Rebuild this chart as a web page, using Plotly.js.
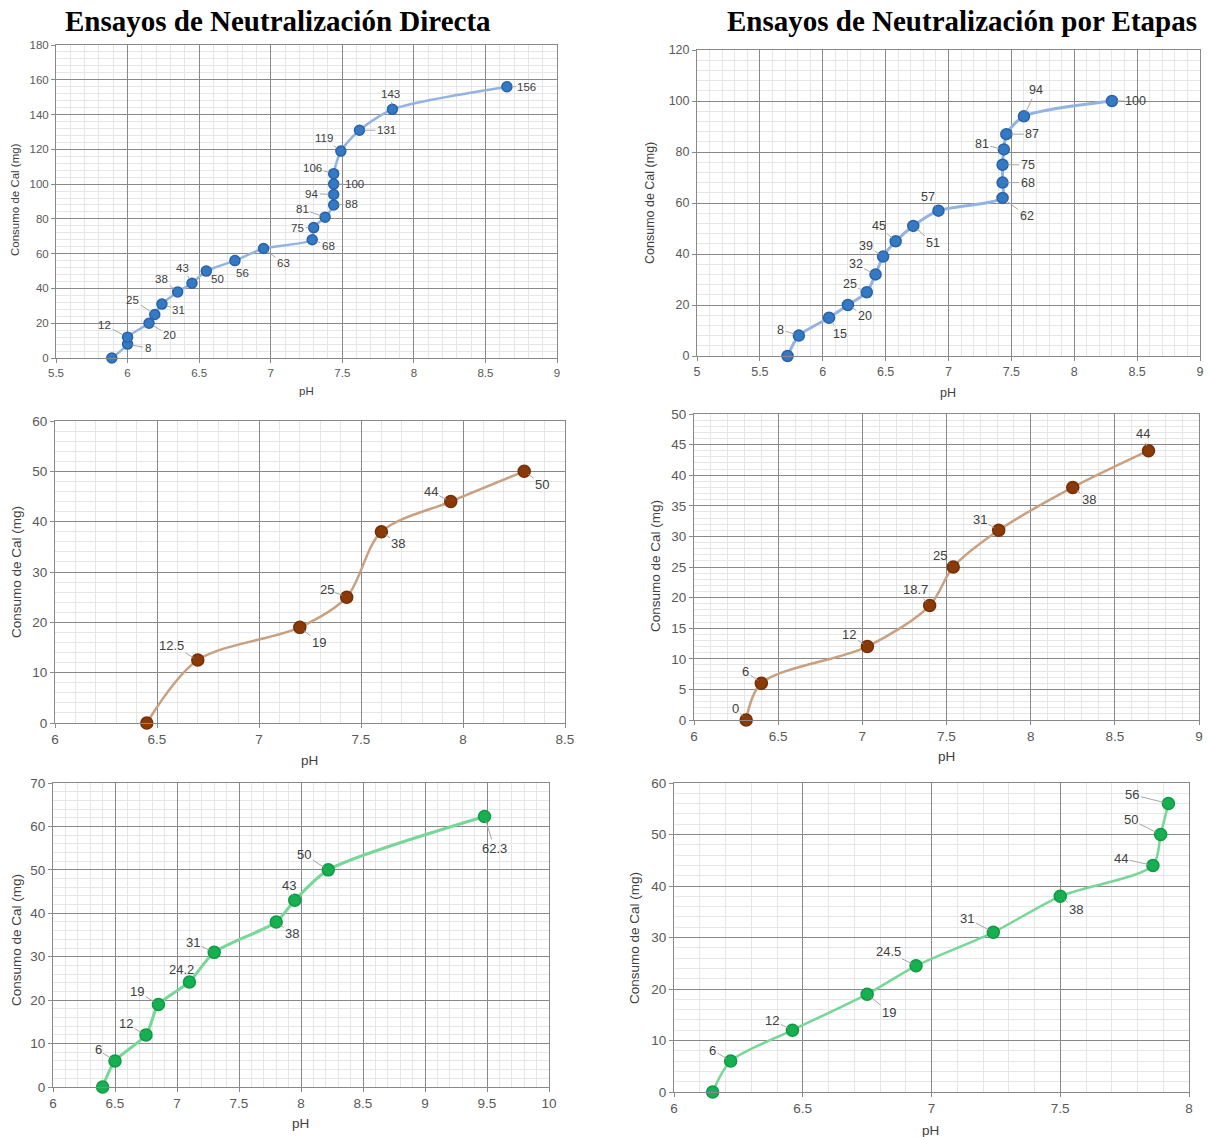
<!DOCTYPE html>
<html>
<head>
<meta charset="utf-8">
<script src="https://cdn.plot.ly/plotly-3.0.1.min.js"></script>
<style>html,body{margin:0;padding:0;background:#fff;}</style>
</head>
<body>
<div id="chart" style="width:1210px;height:1137px;"></div>
<script>
// ---------------- DATA ----------------
// Ensayos de Neutralización Directa (left column)
const directa1_pH  = [5.89, 6.00, 6.00, 6.15, 6.19, 6.24, 6.35, 6.45, 6.55, 6.75, 6.95, 7.29, 7.30, 7.38, 7.44, 7.44, 7.44, 7.44, 7.49, 7.62, 7.85, 8.65];
const directa1_cal = [0, 8, 12, 20, 25, 31, 38, 43, 50, 56, 63, 68, 75, 81, 88, 94, 100, 106, 119, 131, 143, 156];

const directa2_pH  = [6.45, 6.70, 7.20, 7.43, 7.60, 7.94, 8.30];
const directa2_cal = [0, 12.5, 19, 25, 38, 44, 50];

const directa3_pH  = [6.40, 6.50, 6.75, 6.85, 7.10, 7.30, 7.80, 7.95, 8.22, 9.48];
const directa3_cal = [0, 6, 12, 19, 24.2, 31, 38, 43, 50, 62.3];

// Ensayos de Neutralización por Etapas (right column)
const etapas1_pH  = [5.72, 5.81, 6.05, 6.20, 6.35, 6.42, 6.48, 6.58, 6.72, 6.92, 7.43, 7.43, 7.43, 7.44, 7.46, 7.60, 8.30];
const etapas1_cal = [0, 8, 15, 20, 25, 32, 39, 45, 51, 57, 62, 68, 75, 81, 87, 94, 100];

const etapas2_pH  = [6.31, 6.40, 7.03, 7.40, 7.54, 7.81, 8.25, 8.70];
const etapas2_cal = [0, 6, 12, 18.7, 25, 31, 38, 44];

const etapas3_pH  = [6.15, 6.22, 6.46, 6.75, 6.94, 7.24, 7.50, 7.86, 7.89, 7.92];
const etapas3_cal = [0, 6, 12, 19, 24.5, 31, 38, 44, 50, 56];

// Text
const titleLeft  = "Ensayos de Neutralización Directa";
const titleRight = "Ensayos de Neutralización por Etapas";
const yTitle = "Consumo de Cal (mg)";
const xTitle = "pH";

// ---------------- STYLE / LAYOUT (positions in px) ----------------
const W = 1210, H = 1137;
const labelOffsets1 = [null,[20,4],[-23,-12],[20,12],[-22,-15],[17,6],[-16,-13],[-9,-15],[11,8],[8,12],[20,15],[16,6],[-16,0],[-23,-8],[18,-1],[-22,-1],[21,0],[-21,-6],[-17,-13],[27,0],[-2,-15],[20,0]];
const labelOffsets2 = [null,[-18,-6],[11,16],[17,11],[-17,-8],[-20,-10],[-17,-11],[-17,-15],[20,17],[-10,-14],[24,18],[25,0],[25,0],[-22,-5],[26,0],[12,-26],[24,0]];
const labelOffsets3 = [null,[-26,-15],[19,15],[-20,-8],[17,12],[-20,-10],[18,13]];
const labelOffsets4 = [[-11,-12],[-16,-12],[-18,-12],[-14,-16],[-13,-12],[-19,-11],[16,12],[-6,-17]];
const labelOffsets5 = [null,[-17,-11],[-20,-11],[-21,-13],[-8,-12],[-21,-10],[16,12],[-6,-15],[-24,-15],[10,32]];
const labelOffsets6 = [null,[-18,-11],[-20,-10],[22,18],[-28,-14],[-26,-14],[16,13],[-32,-7],[-30,-15],[-36,-9]];

const BLUE  = {line:'#93b3e3', marker:'#3479c4', edge:'#2a62a8'};
const BROWN = {line:'#c9a080', marker:'#8a3a08', edge:'#762f05'};
const GREEN = {line:'#76d796', marker:'#16b050', edge:'#0f9a45'};

const panels = [
  {x:directa1_pH, y:directa1_cal, off:labelOffsets1, col:BLUE,  box:[56,557,45,358],   xr:[5.5,9], yr:[0,180], xd:0.5, xm:0.1, yd:20, ym:4, fs:11.5, lfs:11.5, ms:10, lw:2.5, sm:0.7, ytp:[15,200], xtp:[306,391], tfs:11.5},
  {x:etapas1_pH,  y:etapas1_cal,  off:labelOffsets2, col:BLUE,  box:[697,1200,50,356], xr:[5,9],   yr:[0,120], xd:0.5, xm:0.1, yd:20, ym:4, fs:12.5, lfs:12.5, ms:11, lw:3, sm:0.7, ytp:[650,203], xtp:[948,393], tfs:12.5},
  {x:directa2_pH, y:directa2_cal, off:labelOffsets3, col:BROWN, box:[55,565,421,723],  xr:[6,8.5], yr:[0,60],  xd:0.5, xm:0.1, yd:10, ym:2, fs:13.5, lfs:13, ms:12, lw:2.5, sm:0.9, ytp:[16,572], xtp:[309,760], tfs:13.5},
  {x:etapas2_pH,  y:etapas2_cal,  off:labelOffsets4, col:BROWN, box:[694,1199,414,720],xr:[6,9],   yr:[0,50],  xd:0.5, xm:0.1, yd:5,  ym:1, fs:13.5, lfs:13, ms:12, lw:2.5, sm:0.9, ytp:[655,566], xtp:[946,756], tfs:13.5},
  {x:directa3_pH, y:directa3_cal, off:labelOffsets5, col:GREEN, box:[53,549,783,1087], xr:[6,10],  yr:[0,70],  xd:0.5, xm:0.1, yd:10, ym:2, fs:13.5, lfs:13, ms:12, lw:3, sm:0.7, ytp:[16,940], xtp:[300,1123], tfs:13.5},
  {x:etapas3_pH,  y:etapas3_cal,  off:labelOffsets6, col:GREEN, box:[674,1189,783,1092],xr:[6,8],  yr:[0,60],  xd:0.5, xm:0.1, yd:10, ym:2, fs:13.5, lfs:13, ms:12, lw:2.5, sm:0.8, ytp:[634,938], xtp:[930,1130], tfs:13.5}
];

const FONT = 'Liberation Sans, Arial, sans-serif';
const SERIF = 'Liberation Serif, Times New Roman, serif';
const px = v => v / W;
const py = v => 1 - v / H;

const traces = [];
const layout = {
  width: W, height: H,
  margin: {l:0, r:0, t:0, b:0, pad:0},
  paper_bgcolor: '#ffffff',
  plot_bgcolor: '#ffffff',
  showlegend: false,
  annotations: [],
  font: {family: FONT, color: '#595959'}
};

function axisDef(dom, range, dtick, minor, fs, anchor) {
  return {
    domain: dom, range: range, dtick: dtick, tick0: 0, anchor: anchor,
    showgrid: true, gridcolor: '#898989', gridwidth: 1,
    zeroline: false, showline: true, linecolor: '#898989', linewidth: 1, mirror: true,
    ticks: 'outside', ticklen: 4, tickcolor: '#898989', tickwidth: 1,
    tickfont: {family: FONT, size: fs, color: '#595959'},
    minor: {dtick: minor, tick0: 0, showgrid: true, gridcolor: '#e6e6e6', gridwidth: 1, ticks: ''},
    automargin: false, fixedrange: true
  };
}

panels.forEach((p, i) => {
  const n = i + 1;
  const xa = n === 1 ? 'x' : 'x' + n;
  const ya = n === 1 ? 'y' : 'y' + n;
  const [l, r, t, b] = p.box;
  layout['xaxis' + (n === 1 ? '' : n)] = axisDef([px(l), px(r)], p.xr, p.xd, p.xm, p.fs, ya);
  layout['yaxis' + (n === 1 ? '' : n)] = axisDef([py(b), py(t)], p.yr, p.yd, p.ym, p.fs, xa);

  traces.push({
    type: 'scatter', mode: 'lines+markers',
    x: p.x, y: p.y, xaxis: xa, yaxis: ya,
    line: {color: p.col.line, width: p.lw, shape: 'spline', smoothing: p.sm},
    marker: {size: p.ms, color: p.col.marker, line: {color: p.col.edge, width: 1.5}},
    hoverinfo: 'skip', cliponaxis: false
  });

  p.y.forEach((v, k) => {
    const o = p.off[k];
    if (!o) return;
    layout.annotations.push({
      xref: xa, yref: ya, x: p.x[k], y: v,
      text: String(v), showarrow: true, ax: o[0], ay: o[1],
      arrowhead: 0, arrowwidth: 1, arrowcolor: '#a6a6a6', standoff: 5,
      font: {family: FONT, size: p.lfs, color: '#404040'}
    });
  });

  layout.annotations.push({
    xref: 'paper', yref: 'paper', x: px(p.ytp[0]), y: py(p.ytp[1]),
    text: yTitle, showarrow: false, textangle: -90,
    xanchor: 'center', yanchor: 'middle',
    font: {family: FONT, size: p.tfs, color: '#404040'}
  });
  layout.annotations.push({
    xref: 'paper', yref: 'paper', x: px(p.xtp[0]), y: py(p.xtp[1]),
    text: xTitle, showarrow: false, xanchor: 'center', yanchor: 'middle',
    font: {family: FONT, size: p.tfs, color: '#404040'}
  });
});

layout.annotations.push({
  xref: 'paper', yref: 'paper', x: px(277.5), y: py(21),
  text: '<b>' + titleLeft + '</b>', showarrow: false, xanchor: 'center', yanchor: 'middle',
  font: {family: SERIF, size: 29, color: '#000000'}
});
layout.annotations.push({
  xref: 'paper', yref: 'paper', x: px(962), y: py(21),
  text: '<b>' + titleRight + '</b>', showarrow: false, xanchor: 'center', yanchor: 'middle',
  font: {family: SERIF, size: 29, color: '#000000'}
});

Plotly.newPlot('chart', traces, layout, {staticPlot: true, displayModeBar: false});
</script>
</body>
</html>
